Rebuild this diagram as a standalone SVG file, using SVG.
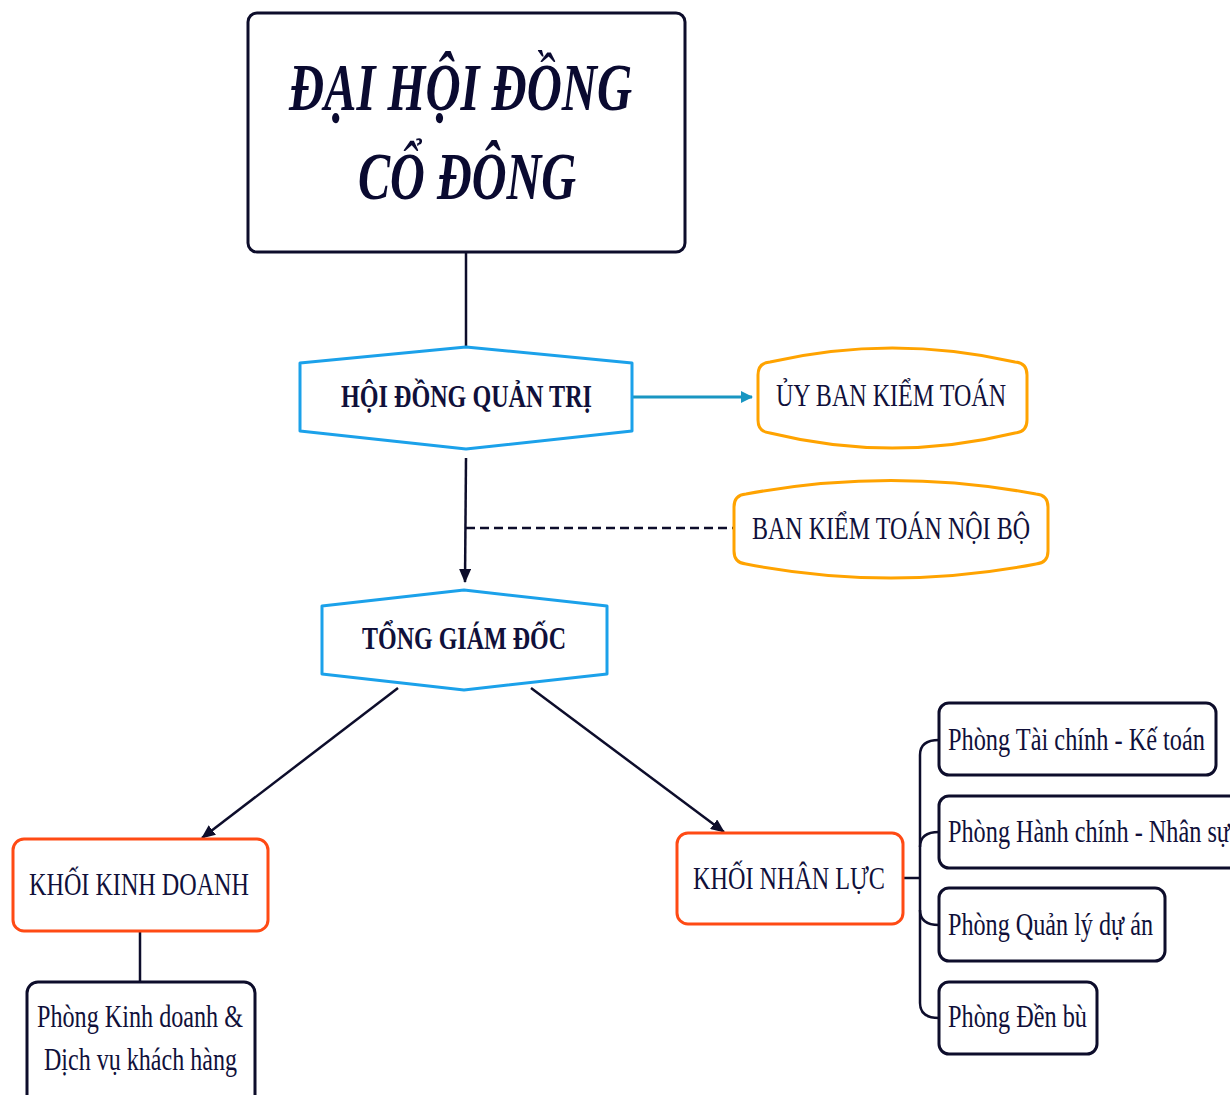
<svg xmlns="http://www.w3.org/2000/svg" width="1230" height="1095" viewBox="0 0 1230 1095">
<defs>
<style>
.t{font-family:"Liberation Serif","Times New Roman",serif;fill:#10103a;font-size:31px}
.b{font-weight:bold}
.title{font-family:"Liberation Serif","Times New Roman",serif;fill:#0a0a30;font-size:68px;font-weight:bold;font-style:italic}
.dark{fill:#fff;stroke:#0d0d2b;stroke-width:3}
.blue{fill:#fff;stroke:#1ba1ea;stroke-width:3;stroke-linejoin:round}
.orange{fill:#fff;stroke:#ffa300;stroke-width:3}
.red{fill:#fff;stroke:#ff4a14;stroke-width:3}
.c{fill:none;stroke:#0d0d2b;stroke-width:2.5}
</style>
<marker id="ah" markerUnits="userSpaceOnUse" markerWidth="14" markerHeight="12" refX="13" refY="6" orient="auto">
<path d="M0,0 L14,6 L0,12 Z" fill="#0d0d2b"/>
</marker>
<marker id="ahb" markerUnits="userSpaceOnUse" markerWidth="12" markerHeight="12" refX="11" refY="6" orient="auto">
<path d="M0,0 L12,6 L0,12 Z" fill="#1996c2"/>
</marker>
</defs>
<rect width="1230" height="1095" fill="#fff"/>
<g id="connectors">
<line class="c" x1="466" y1="253" x2="466" y2="347"/>
<line x1="633" y1="397" x2="752" y2="397" stroke="#1996c2" stroke-width="3" marker-end="url(#ahb)"/>
<line class="c" x1="466" y1="458" x2="465" y2="582" marker-end="url(#ah)"/>
<line class="c" x1="466" y1="528" x2="734" y2="528" stroke-dasharray="9,5"/>
<line class="c" x1="398" y1="688" x2="202" y2="838" marker-end="url(#ah)"/>
<line class="c" x1="531" y1="688" x2="724" y2="832" marker-end="url(#ah)"/>
<line class="c" x1="140" y1="931" x2="140" y2="982"/>
<line class="c" x1="903" y1="878" x2="920" y2="878"/>
<path class="c" d="M939 740 Q920 740 920 755 L920 1003 Q920 1018 939 1018"/>
<path class="c" d="M920 847 Q920 832 939 832"/>
<path class="c" d="M920 910 Q920 925 939 925"/>
</g>
<g id="dhdcd">
<rect class="dark" x="248" y="13" width="437" height="239" rx="9"/>
<text class="title" x="289" y="110" textLength="343" lengthAdjust="spacingAndGlyphs">ĐẠI HỘI ĐỒNG</text>
<text class="title" x="358" y="199" textLength="218" lengthAdjust="spacingAndGlyphs">CỔ ĐÔNG</text>
</g>
<g id="hdqt">
<polygon class="blue" points="300,363 466,347 632,363 632,431 466,449 300,431"/>
<text class="t b" x="341" y="407" font-size="32" textLength="251" lengthAdjust="spacingAndGlyphs">HỘI ĐỒNG QUẢN TRỊ</text>
</g>
<g id="ubkt">
<path class="orange" d="M758 375 Q758 363 770 362 Q892 334 1015 362 Q1027 363 1027 375 L1027 420 Q1027 432 1015 433 Q892 463 770 433 Q758 432 758 420 Z"/>
<text class="t" x="776" y="406" textLength="230" lengthAdjust="spacingAndGlyphs">ỦY BAN KIỂM TOÁN</text>
</g>
<g id="bktnb">
<path class="orange" d="M734 507 Q734 495 746 494 Q891 467 1036 494 Q1048 495 1048 507 L1048 551 Q1048 563 1036 564 Q891 592 746 564 Q734 563 734 551 Z"/>
<text class="t" x="752" y="539" textLength="278" lengthAdjust="spacingAndGlyphs">BAN KIỂM TOÁN NỘI BỘ</text>
</g>
<g id="tgd">
<polygon class="blue" points="322,606 464,590 607,606 607,674 464,690 322,674"/>
<text class="t b" x="362" y="649" font-size="30" textLength="204" lengthAdjust="spacingAndGlyphs">TỔNG GIÁM ĐỐC</text>
</g>
<g id="kkd">
<rect class="red" x="13" y="839" width="255" height="92" rx="11"/>
<text class="t" x="29" y="895" textLength="220" lengthAdjust="spacingAndGlyphs">KHỐI KINH DOANH</text>
</g>
<g id="pkd">
<rect class="dark" x="27" y="982" width="228" height="130" rx="11"/>
<text class="t" x="37" y="1027" textLength="206" lengthAdjust="spacingAndGlyphs">Phòng Kinh doanh &amp;</text>
<text class="t" x="44" y="1070" textLength="193" lengthAdjust="spacingAndGlyphs">Dịch vụ khách hàng</text>
</g>
<g id="knl">
<rect class="red" x="677" y="833" width="226" height="91" rx="11"/>
<text class="t" x="693" y="889" textLength="192" lengthAdjust="spacingAndGlyphs">KHỐI NHÂN LỰC</text>
</g>
<g id="ptckt">
<rect class="dark" x="939" y="703" width="277" height="72" rx="10"/>
<text class="t" x="948" y="750" textLength="257" lengthAdjust="spacingAndGlyphs">Phòng Tài chính - Kế toán</text>
</g>
<g id="phcns">
<rect class="dark" x="939" y="796" width="320" height="72" rx="10"/>
<text class="t" x="948" y="842" textLength="282" lengthAdjust="spacingAndGlyphs">Phòng Hành chính - Nhân sự</text>
</g>
<g id="pqlda">
<rect class="dark" x="939" y="888" width="226" height="73" rx="10"/>
<text class="t" x="948" y="935" textLength="205" lengthAdjust="spacingAndGlyphs">Phòng Quản lý dự án</text>
</g>
<g id="pdb">
<rect class="dark" x="939" y="982" width="158" height="72" rx="10"/>
<text class="t" x="948" y="1027" textLength="139" lengthAdjust="spacingAndGlyphs">Phòng Đền bù</text>
</g>
</svg>
